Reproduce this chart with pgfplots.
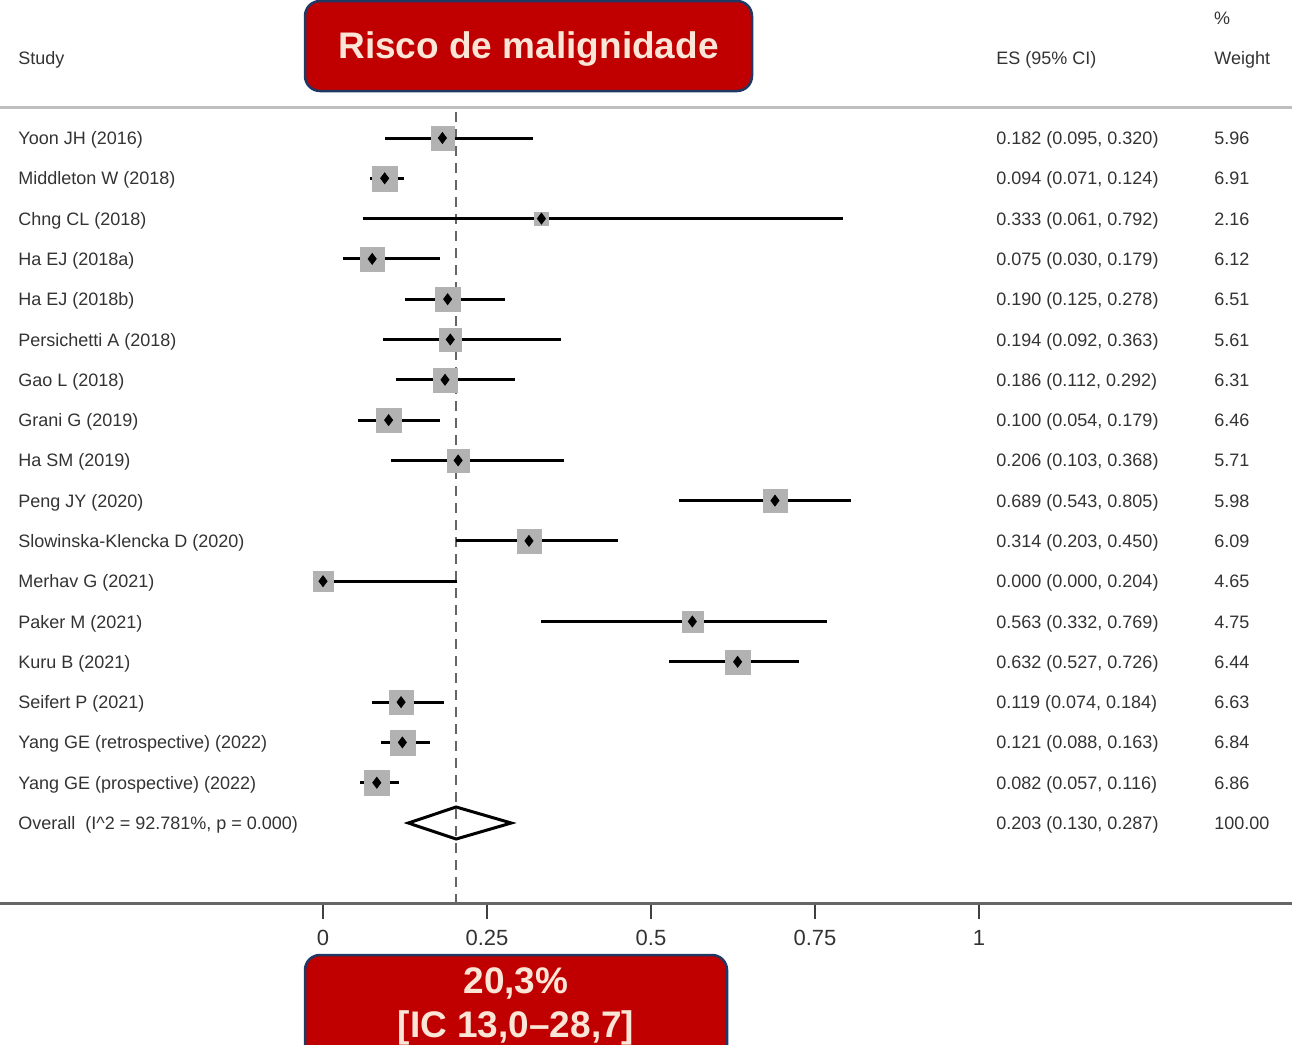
\documentclass[border=0pt]{standalone}
\usepackage{pgfplots}
\pgfplotsset{compat=1.18}
\usepackage{pgfplotstable}
\usepackage{fontspec}
\setmainfont{Liberation Sans}
\definecolor{boxred}{HTML}{C00000}
\definecolor{boxedge}{HTML}{1F3864}
\definecolor{boxtext}{HTML}{FBE5D6}

\pgfplotstableread{
y es lo hi w
-138.0 0.182 0.095 0.320 5.96
-178.3 0.094 0.071 0.124 6.91
-218.6 0.333 0.061 0.792 2.16
-258.9 0.075 0.030 0.179 6.12
-299.2 0.190 0.125 0.278 6.51
-339.5 0.194 0.092 0.363 5.61
-379.8 0.186 0.112 0.292 6.31
-420.1 0.100 0.054 0.179 6.46
-460.4 0.206 0.103 0.368 5.71
-500.6 0.689 0.543 0.805 5.98
-540.9 0.314 0.203 0.450 6.09
-581.2 0.000 0.000 0.204 4.65
-621.5 0.563 0.332 0.769 4.75
-661.8 0.632 0.527 0.726 6.44
-702.1 0.119 0.074 0.184 6.63
-742.4 0.121 0.088 0.163 6.84
-782.7 0.082 0.057 0.116 6.86
}\studies

\begin{document}
\begin{tikzpicture}
\begin{axis}[
  at={(0,0)}, anchor=north west,
  scale only axis, width=646pt, height=451.5pt,
  xmin=-0.49238, xmax=1.47713, ymin=-903, ymax=0,
  axis x line=bottom, axis y line=none,
  axis line style={-, draw=black!60, line width=1.5pt},
  xtick={0,0.25,0.5,0.75,1}, xticklabels={0,0.25,0.5,0.75,1},
  xtick align=outside, major tick length=8pt,
  tick style={draw=black!75, line width=0.8pt},
  xticklabel style={font=\fontsize{11}{13}\selectfont, text=black!80, yshift=-2pt},
  clip=false,
]
% top rule
\draw[black!25, line width=1.5pt] (axis cs:-0.49238,-107) -- (axis cs:1.47713,-107);
% weight boxes
\addplot[scatter, only marks, mark=square*,
  mark options={draw=black!30, fill=black!30, line width=0.1pt},
  scatter/use mapped color={draw=black!30, fill=black!30},
  visualization depends on={2.375*sqrt(\thisrow{w}) \as \msz},
  scatter/@pre marker code/.append style={/tikz/mark size=\msz pt}]
  table[x=es, y=y]{\studies};
% reference line at overall estimate
\addplot[black!60, line width=1pt, dash pattern=on 5pt off 3.5pt] coordinates {(0.203,-112) (0.203,-903)};
% confidence intervals
\addplot[draw=none, mark=none,
  error bars/.cd, x dir=both, x explicit, error mark=none,
  error bar style={draw=black, solid, line width=1.5pt}]
  table[x=es, y=y, x error plus expr=\thisrow{hi}-\thisrow{es}, x error minus expr=\thisrow{es}-\thisrow{lo}]{\studies};
% point estimates
\addplot[only marks, mark=diamond*, mark size=2.7pt, mark options={fill=black, draw=black}]
  table[x=es, y=y]{\studies};
% overall diamond
\addplot[black, line width=1.5pt, mark=none] coordinates {(0.130,-823) (0.203,-807) (0.287,-823) (0.203,-839)} -- cycle;
\end{axis}

\begin{scope}[x=0.5pt, y=-0.5pt,
  txt/.style={anchor=base west, inner sep=0pt, font=\fontsize{9}{11}\selectfont, text=black!80}]
\node[txt] at (18,64.5) {Study};
\node[txt] at (996,64.5) {ES (95\% CI)};
\node[txt] at (1214,64.5) {Weight};
\node[txt, anchor=base] at (1222,24.5) {\%};
\foreach \yy/\nm/\es/\wt in {
  138.0/{Yoon JH (2016)}/{0.182 (0.095, 0.320)}/5.96,
  178.3/{Middleton W (2018)}/{0.094 (0.071, 0.124)}/6.91,
  218.6/{Chng CL (2018)}/{0.333 (0.061, 0.792)}/2.16,
  258.9/{Ha EJ (2018a)}/{0.075 (0.030, 0.179)}/6.12,
  299.2/{Ha EJ (2018b)}/{0.190 (0.125, 0.278)}/6.51,
  339.5/{Persichetti A (2018)}/{0.194 (0.092, 0.363)}/5.61,
  379.8/{Gao L (2018)}/{0.186 (0.112, 0.292)}/6.31,
  420.1/{Grani G (2019)}/{0.100 (0.054, 0.179)}/6.46,
  460.4/{Ha SM (2019)}/{0.206 (0.103, 0.368)}/5.71,
  500.6/{Peng JY (2020)}/{0.689 (0.543, 0.805)}/5.98,
  540.9/{Slowinska-Klencka D (2020)}/{0.314 (0.203, 0.450)}/6.09,
  581.2/{Merhav G (2021)}/{0.000 (0.000, 0.204)}/4.65,
  621.5/{Paker M (2021)}/{0.563 (0.332, 0.769)}/4.75,
  661.8/{Kuru B (2021)}/{0.632 (0.527, 0.726)}/6.44,
  702.1/{Seifert P (2021)}/{0.119 (0.074, 0.184)}/6.63,
  742.4/{Yang GE (retrospective) (2022)}/{0.121 (0.088, 0.163)}/6.84,
  782.7/{Yang GE (prospective) (2022)}/{0.082 (0.057, 0.116)}/6.86,
  823.0/{Overall\ \ (I\textasciicircum 2 = 92.781\%, p = 0.000)}/{0.203 (0.130, 0.287)}/100.00}
{
  \node[txt] at (18,\yy+6.5) {\nm};
  \node[txt] at (996,\yy+6.5) {\es};
  \node[txt] at (1214,\yy+6.5) {\wt};
}
% title box
\draw[boxedge, line width=1.25pt, fill=boxred, rounded corners=7.5pt] (305,1) rectangle (752,91);
\node[anchor=base, inner sep=0pt, font=\fontsize{18.5}{22}\selectfont\bfseries, text=boxtext] at (528.5,58) {Risco de malignidade};
% result box
\draw[boxedge, line width=1.25pt, fill=boxred, rounded corners=7.5pt] (305,955) rectangle (727,1100);
\node[anchor=base, inner sep=0pt, font=\fontsize{18.5}{22}\selectfont\bfseries, text=boxtext] at (516,993) {20,3\%};
\node[anchor=base, inner sep=0pt, font=\fontsize{18.5}{22}\selectfont\bfseries, text=boxtext] at (516,1037) {[IC 13,0–28,7]};
\pgfresetboundingbox
\useasboundingbox (0,0) rectangle (1292,1045);
\end{scope}
\end{tikzpicture}
\end{document}
